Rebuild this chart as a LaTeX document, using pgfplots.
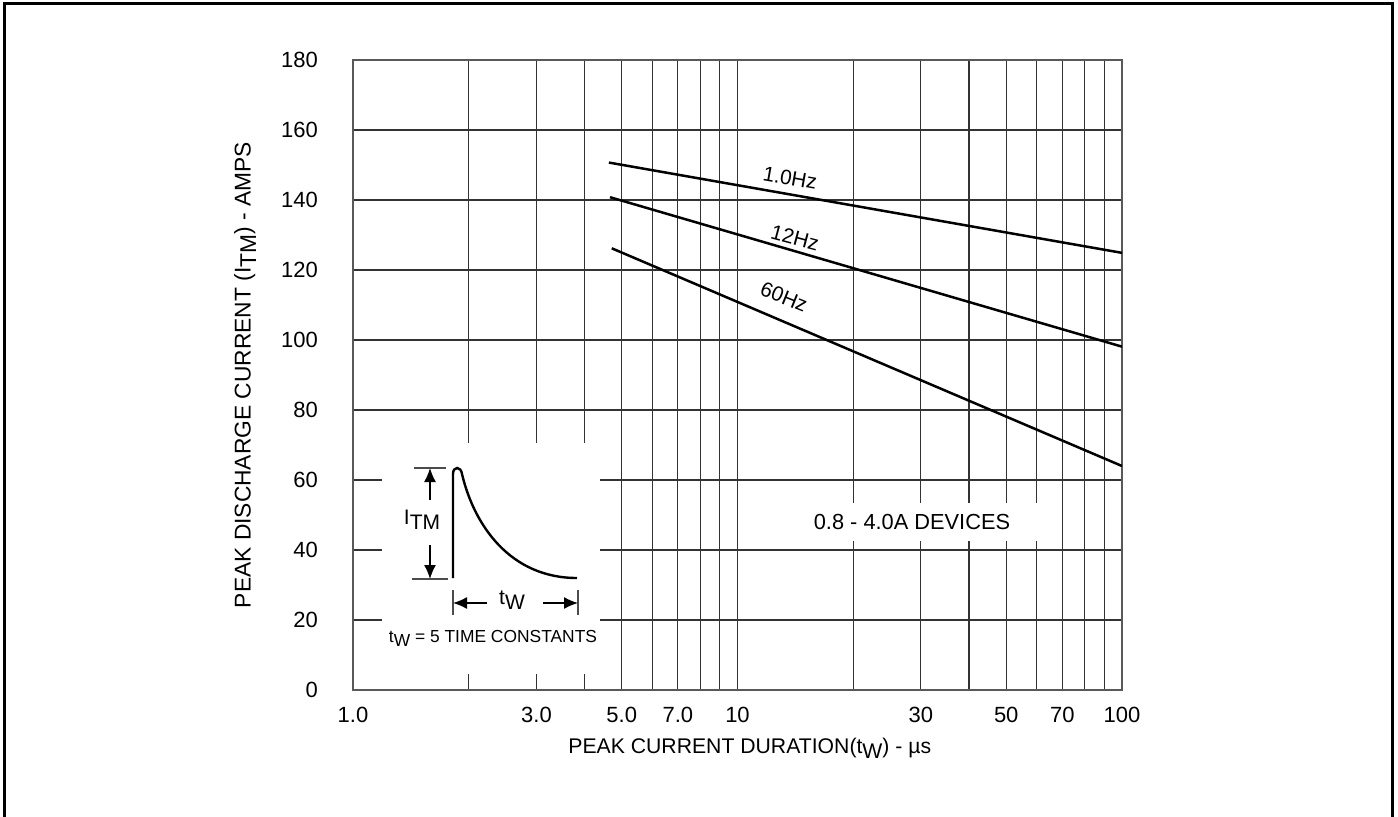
\documentclass[border=0pt]{standalone}
\usepackage{fontspec}
\setmainfont{Liberation Sans}
\usepackage{graphicx}
\usepackage{pgfplots}
\pgfplotsset{compat=1.18}
\usetikzlibrary{arrows.meta}
\newcommand{\sub}[1]{\raisebox{-0.45ex}{#1}}
\newcommand{\fs}{\fontsize{11}{13}\selectfont}
\newcommand{\fl}{\fontsize{10.6}{13}\selectfont}
\begin{document}
\begin{tikzpicture}
\useasboundingbox (-176.5pt,-63pt) rectangle (522.5pt,345pt);
\begin{axis}[
  at={(0,0)}, anchor=south west,
  scale only axis, width=384.5pt, height=315pt,
  xmode=log, xmin=1, xmax=100, ymin=0, ymax=180,
  ytick={0,20,40,60,80,100,120,140,160,180},
  xtick={1,2,3,4,5,6,7,8,9,10,20,30,40,50,60,70,80,90,100},
  xticklabels={1.0,,3.0,,5.0,,7.0,,,10,,30,,50,,70,,,100},
  grid=major,
  major grid style={line width=0.55pt, color=black!80},
  axis line style={line width=0.8pt, color=black!65},
  major tick length=0pt, minor tick length=0pt,
  tick style={draw=none},
  /pgf/number format/assume math mode=true,
  ticklabel style={font=\fs},
  xticklabel style={anchor=north, yshift=-5pt},
  yticklabel style={anchor=east, xshift=-14pt},
  xlabel={PEAK CURRENT DURATION(t\sub{W}) - \textmu s},
  ylabel={PEAK DISCHARGE CURRENT (I\sub{TM}) - AMPS},
  xlabel style={font=\fl, at={(axis description cs:0.516,-0.092)}, anchor=center},
  ylabel style={font=\fontsize{11.4}{13}\selectfont, at={(axis description cs:-0.1404,0.5)}, anchor=center},
]
\addplot[black, line width=1.25pt] coordinates {(4.63,150.7) (100,124.9)};
\addplot[black, line width=1.25pt] coordinates {(4.66,140.8) (100,98.1)};
\addplot[black, line width=1.25pt] coordinates {(4.71,126.2) (100,64)};
\end{axis}
\begin{scope}[x=0.5pt,y=-0.5pt,shift={(-176.5pt,345pt)}]
  % outer frame
  \draw[line width=1.5pt] (4.5,840) -- (4.5,4) -- (1392,4) -- (1392,840);
  % white boxes
  \fill[white] (382,443) rectangle (600,674);
  \fill[white] (805,503) rectangle (1045,541);
  % inset pulse
  \draw[line width=1.2pt] (453,578) -- (453,474) .. controls (453,466) and (461,466) .. (462,474)
     .. controls (474,525) and (510,578) .. (577,578);
  \draw[line width=0.6pt, black!70] (414,468) -- (446,468) (412,579) -- (448,579);
  \draw[line width=0.6pt, black!70] (453,590) -- (453,615) (578,590) -- (578,615);
  \draw[line width=0.7pt, -{Latex[length=7pt,width=6pt]}] (430,500) -- (430,468);
  \draw[line width=0.7pt, -{Latex[length=7pt,width=6pt]}] (430,545) -- (430,579);
  \draw[line width=0.7pt, -{Latex[length=7pt,width=6pt]}] (487,603) -- (453,603);
  \draw[line width=0.7pt, -{Latex[length=7pt,width=6pt]}] (543,603) -- (578,603);
  \node[font=\fontsize{10.5}{12}\selectfont] at (422,520) {I\sub{TM}};
  \node[font=\fontsize{10.5}{12}\selectfont] at (512,600) {t\sub{W}};
  \node[font=\fontsize{8.7}{10}\selectfont] at (493,638) {t\sub{W} = 5 TIME CONSTANTS};
  % curve labels
  \node[font=\fontsize{10.4}{12}\selectfont, rotate=-10, inner sep=0pt] at (790,178) {1.0Hz};
  \node[font=\fontsize{10.4}{12}\selectfont, rotate=-15, inner sep=0pt] at (795,238) {12Hz};
  \node[font=\fontsize{10.4}{12}\selectfont, rotate=-22, inner sep=0pt] at (784,297) {60Hz};
  \node[font=\fontsize{10.9}{13}\selectfont] at (912,522) {0.8 - 4.0A DEVICES};
\end{scope}
\end{tikzpicture}
\end{document}
